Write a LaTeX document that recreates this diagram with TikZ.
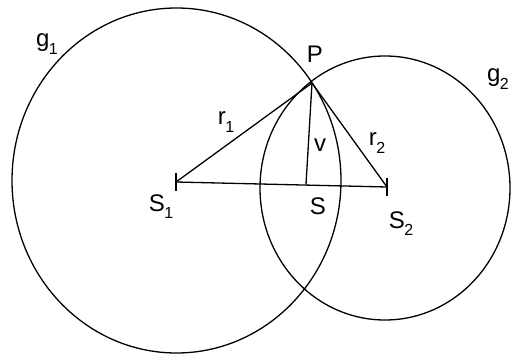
\documentclass[tikz,border=0pt]{standalone}
\usepackage{fontspec}
\setmainfont{Liberation Sans}
\newcommand\sublab[2]{#1\kern-0.5pt\raisebox{-0.3em}{\fontsize{16}{16}\selectfont #2}}
\begin{document}
\begin{tikzpicture}[x=1pt,y=-1pt,
  geo/.style={line width=1.3pt,black},
  lab/.style={font=\fontsize{24}{24}\selectfont,inner sep=0pt}]
\useasboundingbox (0,0) rectangle (512,358);
\coordinate (C1) at (176.5,180.5);
\coordinate (C2) at (385,188);
\coordinate (S1) at (176,182);
\coordinate (S2) at (387,187);
\coordinate (P) at (312,83);
\coordinate (S) at (306,184.5);
\draw[geo] (C1) ellipse [x radius=164.5, y radius=172.5];
\draw[geo] (C2) ellipse [x radius=125, y radius=132];
\draw[geo] (S1) -- (S2);
\draw[geo] (P) -- (S1);
\draw[geo] (P) -- (S2);
\draw[geo] (P) -- (S);
\draw[geo] ([yshift=9pt]S1) -- ([yshift=-9pt]S1);
\draw[geo] ([yshift=9pt]S2) -- ([yshift=-9pt]S2);
\node[lab] (g1) at (47,44) {\sublab{g}{1}};
\node[lab] (g2) at (498,79) {\sublab{g}{2}};
\node[lab] (Pl) at (315,54) {P};
\node[lab] (r1) at (226,122) {\sublab{r}{1}};
\node[lab] (vl) at (320,145) {v};
\node[lab] (r2) at (377,143) {\sublab{r}{2}};
\node[lab] (S1l) at (161,207) {\sublab{S}{1}};
\node[lab] (Sl) at (318,206) {S};
\node[lab] (S2l) at (401,224) {\sublab{S}{2}};
\end{tikzpicture}
\end{document}
